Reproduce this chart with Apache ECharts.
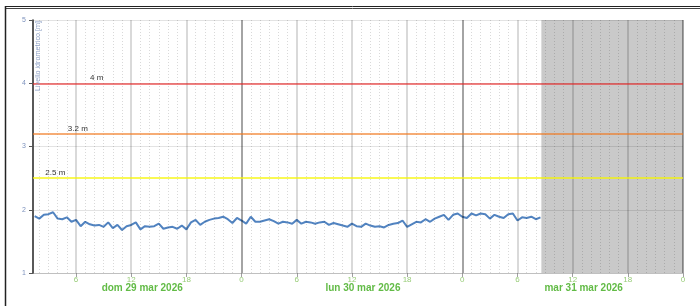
<!DOCTYPE html>
<html>
<head>
<meta charset="utf-8">
<script src="https://cdn.jsdelivr.net/npm/echarts@6/dist/echarts.min.js"></script>
<style>
    html, body { margin: 0; padding: 0; background: #fff; }
    #chart { width: 700px; height: 306px; }
</style>
</head>
<body>
<div id="chart"></div>
<script>
// ore contate dal 29 mar 2026 00:00, un campione ogni mezz'ora
const startHour = 1.5
const stepHours = 0.5
const levels = [
    1.90, 1.86, 1.92, 1.93, 1.96, 1.86, 1.85, 1.88, 1.81, 1.84,
    1.74, 1.81, 1.77, 1.75, 1.76, 1.73, 1.80, 1.71, 1.76, 1.68,
    1.74, 1.76, 1.80, 1.69, 1.74, 1.73, 1.74, 1.78, 1.70, 1.72,
    1.73, 1.70, 1.75, 1.69, 1.80, 1.84, 1.76, 1.81, 1.84, 1.86,
    1.87, 1.89, 1.85, 1.79, 1.87, 1.83, 1.78, 1.89, 1.81, 1.81,
    1.83, 1.85, 1.82, 1.78, 1.81, 1.80, 1.78, 1.84, 1.78, 1.81,
    1.80, 1.78, 1.80, 1.81, 1.76, 1.79, 1.77, 1.75, 1.73, 1.78,
    1.74, 1.73, 1.78, 1.75, 1.73, 1.74, 1.72, 1.76, 1.78, 1.79,
    1.83, 1.73, 1.77, 1.81, 1.80, 1.85, 1.81, 1.86, 1.89, 1.92,
    1.84, 1.92, 1.94, 1.89, 1.87, 1.94, 1.91, 1.94, 1.93, 1.86,
    1.92, 1.89, 1.87, 1.93, 1.94, 1.83, 1.88, 1.87, 1.89, 1.85,
    1.88
]
const dayLabels = ['dom 29 mar 2026', 'lun 30 mar 2026', 'mar 31 mar 2026']
const hourTicks = [6, 12, 18, 24, 30, 36, 42, 48, 54, 60, 66, 72]
const dayNoons = [12, 36, 60]
const thresholds = [4, 3.2, 2.5]
const thresholdNames = ['4 m', '3.2 m', '2.5 m']
const forecastFrom = 56.6
const xMin = 1.32
const xMax = 72

const thresholdColors = ['rgba(232,40,40,0.78)', 'rgba(240,120,30,0.82)', 'rgba(246,246,0,0.9)']
const labelAtHour = [8.25, 6.2, 3.75]

let myChart = echarts.init(document.getElementById('chart'))

// griglia verticale: ore (puntinata), 6 ore, giorni
let gridLines = []
for (let h = 2; h < xMax; h++) {
    if (h % 6 != 0) {
        gridLines.push({ xAxis: h, lineStyle: { type: [1, 2], color: 'rgba(0,0,0,0.15)', width: 1 } })
    }
}
hourTicks.forEach(h => {
    if (h % 24 == 0) {
        gridLines.push({ xAxis: h, lineStyle: { type: 'solid', color: 'rgba(0,0,0,0.48)', width: 1.5 } })
    } else {
        gridLines.push({ xAxis: h, lineStyle: { type: 'solid', color: 'rgba(0,0,0,0.2)', width: 1.5 } })
    }
})

let option = {
    animation: false,
    grid: {
        left: 33,
        right: 17,
        top: 20,
        bottom: 33,
        outerBoundsMode: 'none'
    },
    xAxis: [{
        type: 'value',
        min: xMin,
        max: xMax,
        position: 'bottom',
        axisLine: { show: true, lineStyle: { color: '#d8d8d8', width: 1 } },
        axisTick: { show: true, customValues: hourTicks, length: 4, lineStyle: { color: '#a0a0a0' } },
        axisLabel: {
            customValues: hourTicks,
            formatter: v => String(v % 24),
            color: '#98cc78',
            fontSize: 8,
            margin: 3,
            fontFamily: 'Liberation Sans'
        },
        splitLine: { show: false }
    }, {
        type: 'value',
        min: xMin,
        max: xMax,
        position: 'bottom',
        axisLine: { show: false },
        axisTick: { show: false },
        splitLine: { show: false },
        axisLabel: {
            customValues: dayNoons,
            formatter: v => dayLabels[Math.floor(v / 24)],
            color: '#62bb46',
            fontWeight: 'bold',
            fontSize: 10,
            margin: 10,
            padding: [0, 0, 0, 22],
            fontFamily: 'Liberation Sans'
        }
    }],
    yAxis: {
        type: 'value',
        min: 1,
        max: 5,
        interval: 1,
        axisLine: { show: true, lineStyle: { color: '#222', width: 1.5 } },
        axisTick: { show: true, length: 4, lineStyle: { color: '#555' } },
        axisLabel: { color: '#7d92bd', fontSize: 7, margin: 7, fontFamily: 'Liberation Sans' },
        splitLine: { show: true, lineStyle: { color: 'rgba(0,0,0,0.11)', width: 1 } },
        z: 3
    },
    graphic: [{
        type: 'text',
        x: 38.5,
        y: 21,
        rotation: Math.PI / 2,
        z: 100,
        style: {
            text: 'Livello idrometrico [m]',
            fill: '#8ea0c6',
            fontSize: 7.2,
            fontFamily: 'Liberation Sans',
            align: 'right',
            verticalAlign: 'middle'
        }
    }, {
        type: 'line',
        shape: { x1: 5, y1: 6.5, x2: 700, y2: 6.5 },
        style: { stroke: '#222', lineWidth: 1 }
    }, {
        type: 'line',
        shape: { x1: 5, y1: 8.5, x2: 700, y2: 8.5 },
        style: { stroke: '#444', lineWidth: 1 }
    }, {
        type: 'line',
        shape: { x1: 5.5, y1: 6, x2: 5.5, y2: 306 },
        style: { stroke: '#222', lineWidth: 1.5 }
    }],
    series: [{
        name: 'previsione',
        type: 'line',
        data: [],
        z: 1,
        silent: true,
        markArea: {
            silent: true,
            itemStyle: { color: '#c9c9c9' },
            data: [[{ xAxis: forecastFrom }, { xAxis: xMax }]]
        }
    }, {
        name: 'griglia',
        type: 'line',
        data: [],
        z: 2,
        silent: true,
        markLine: {
            silent: true,
            symbol: 'none',
            label: { show: false },
            data: gridLines
        }
    }, {
        name: 'soglie',
        type: 'line',
        data: [],
        z: 3,
        silent: true,
        markLine: {
            silent: true,
            symbol: 'none',
            label: { show: false },
            data: thresholds.map((t, i) => ({
                yAxis: t,
                lineStyle: { type: 'solid', color: thresholdColors[i], width: 1.6 }
            }))
        },
        markPoint: {
            silent: true,
            symbol: 'circle',
            symbolSize: 0,
            label: {
                show: true,
                position: 'top',
                distance: 1,
                formatter: '{b}',
                color: '#333',
                fontSize: 8,
                fontFamily: 'Liberation Sans'
            },
            data: thresholds.map((t, i) => ({ name: thresholdNames[i], coord: [labelAtHour[i], t] }))
        }
    }, {
        name: 'Livello idrometrico',
        type: 'line',
        z: 4,
        showSymbol: false,
        smooth: false,
        lineStyle: { color: '#5183c0', width: 2 },
        itemStyle: { color: '#5183c0' },
        data: levels.map((v, i) => [startHour + i * stepHours, v])
    }]
}

myChart.setOption(option)
</script>
</body>
</html>
